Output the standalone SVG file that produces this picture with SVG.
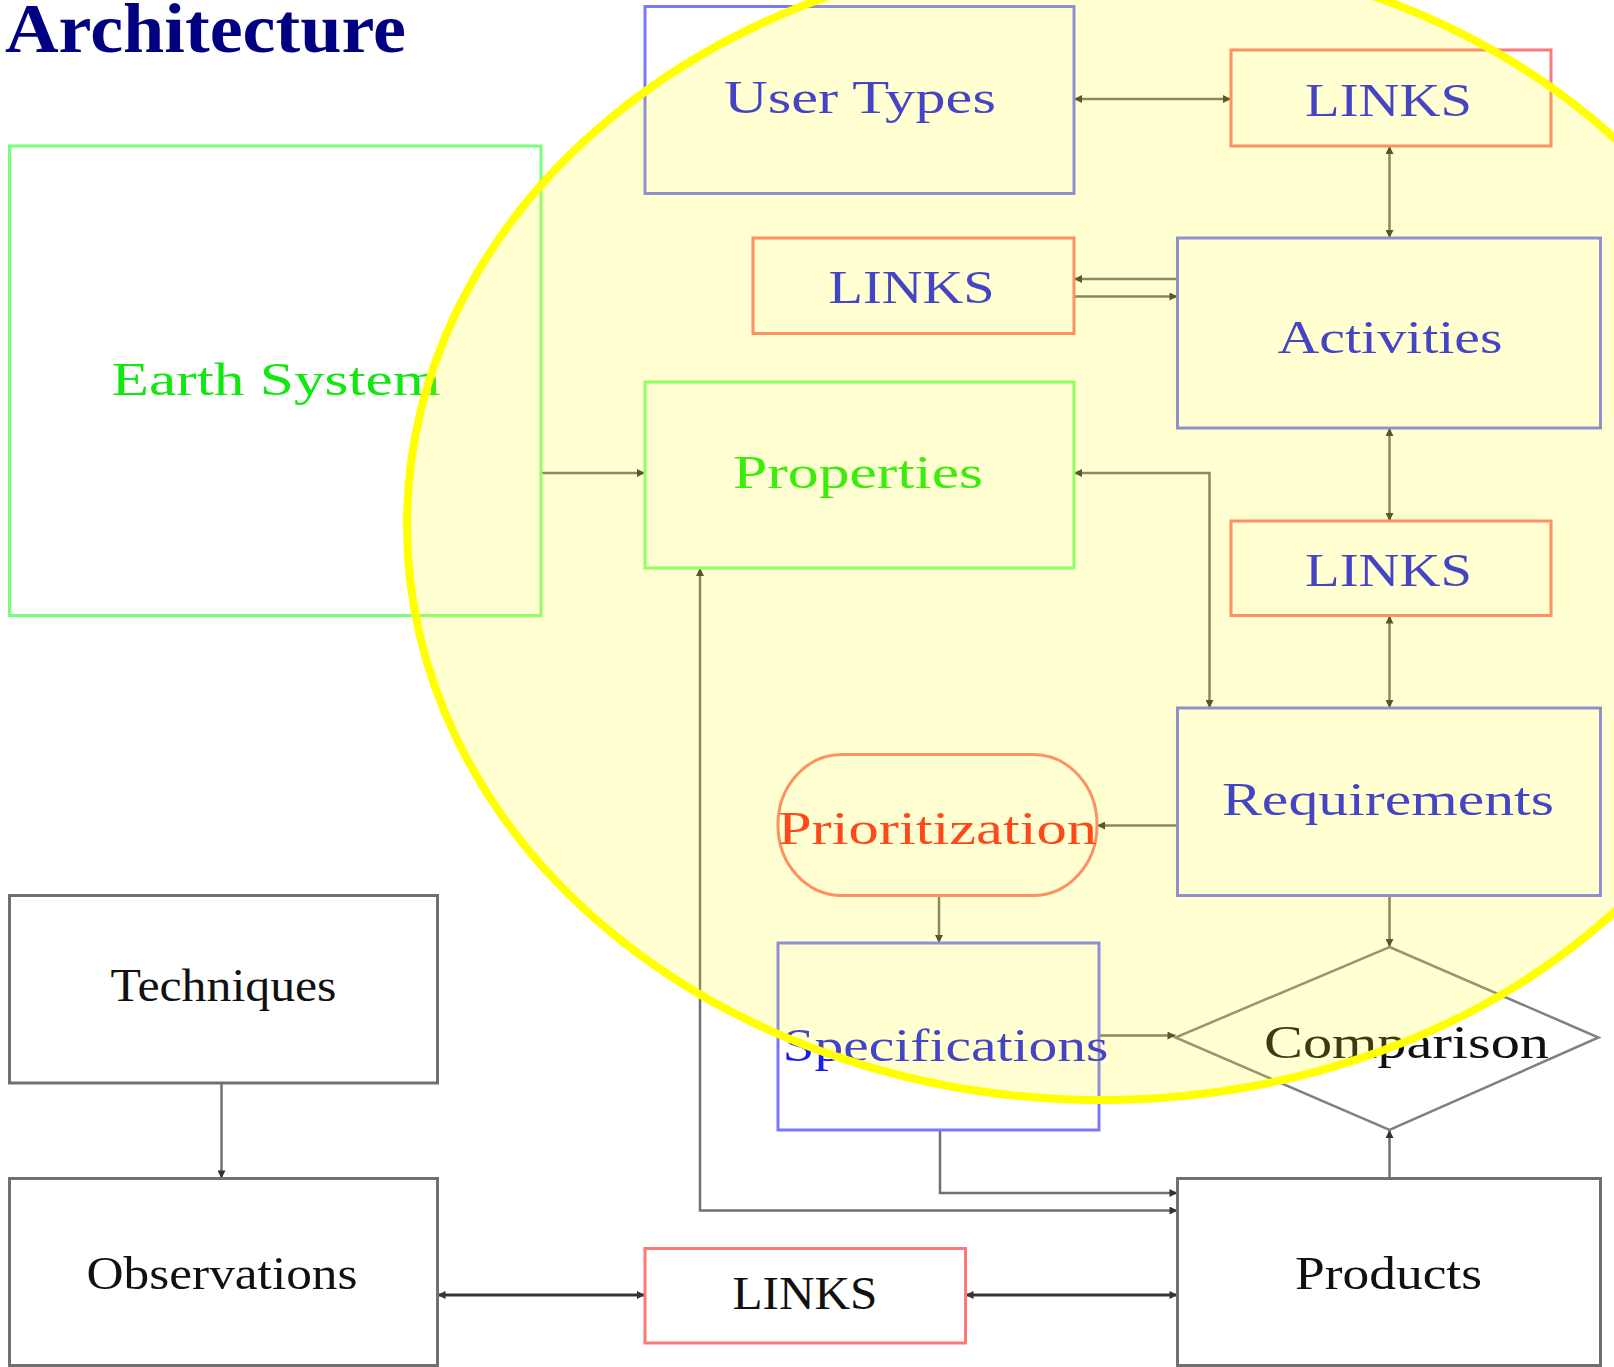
<svg xmlns="http://www.w3.org/2000/svg" width="1614" height="1367" viewBox="0 0 1614 1367">
<style>
  .box { fill: none; stroke-width: 3; }
  .blue { stroke: #7878ff; }
  .red { stroke: #ff7878; }
  .green { stroke: #78ff78; }
  .gray { stroke: #707070; }
  .lbl { font-family: "Liberation Serif", "DejaVu Serif", serif; font-size: 46px; text-anchor: middle; }
  .tblue { fill: #1c1cf0; }
  .tgreen { fill: #10e810; }
  .tred { fill: #ff2020; }
  .tblack { fill: #111111; }
  .conn { fill: none; stroke: #707070; stroke-width: 2.5; }
  .dark { stroke: #333333; stroke-width: 3; }
</style>
<defs>
  <marker id="arr" viewBox="0 0 10 10" refX="10" refY="5" markerWidth="9" markerHeight="8" markerUnits="userSpaceOnUse" orient="auto-start-reverse">
    <path d="M0,0 L10,5 L0,10 z" fill="#333333"/>
  </marker>
</defs>
<rect x="0" y="0" width="1614" height="1367" fill="#ffffff"/>

<text x="5" y="52" font-family="Liberation Serif, serif" font-weight="bold" font-size="70" fill="#000080" textLength="401" lengthAdjust="spacingAndGlyphs">Architecture</text>

<g id="connectors">
  <path class="conn" d="M1074,99 H1231" marker-start="url(#arr)" marker-end="url(#arr)"/>
  <path class="conn" d="M1389.5,146 V238" marker-start="url(#arr)" marker-end="url(#arr)"/>
  <path class="conn" d="M1177.5,279 H1074" marker-end="url(#arr)"/>
  <path class="conn" d="M1074,296.5 H1177.5" marker-end="url(#arr)"/>
  <path class="conn" d="M1389.5,428 V521" marker-start="url(#arr)" marker-end="url(#arr)"/>
  <path class="conn" d="M1389.5,615.5 V708" marker-start="url(#arr)" marker-end="url(#arr)"/>
  <path class="conn" d="M541,473 H645" marker-end="url(#arr)"/>
  <path class="conn" d="M1074,473 H1209.5 V708" marker-start="url(#arr)" marker-end="url(#arr)"/>
  <path class="conn" d="M1177.5,825.5 H1097" marker-end="url(#arr)"/>
  <path class="conn" d="M939,895.5 V943" marker-end="url(#arr)"/>
  <path class="conn" d="M1389.5,895.5 V947" marker-end="url(#arr)"/>
  <path class="conn" d="M1099,1035.5 H1175.5" marker-end="url(#arr)"/>
  <path class="conn" d="M1389.5,1178.5 V1130" marker-end="url(#arr)"/>
  <path class="conn" d="M940,1130 V1193 H1177.5" marker-end="url(#arr)"/>
  <path class="conn" d="M1177.5,1210.5 H700 V568" marker-start="url(#arr)" marker-end="url(#arr)"/>
  <path class="conn" d="M221.5,1083 V1178.5" marker-end="url(#arr)"/>
  <path class="conn dark" d="M437.5,1295 H645" marker-start="url(#arr)" marker-end="url(#arr)"/>
  <path class="conn dark" d="M965.5,1295 H1177.5" marker-start="url(#arr)" marker-end="url(#arr)"/>
</g>

<g id="earth-system">
  <rect class="box green" x="9.5" y="146" width="531.5" height="469.5"/>
  <text class="lbl tgreen" x="276" y="395" textLength="329" lengthAdjust="spacingAndGlyphs">Earth System</text>
</g>
<g id="user-types">
  <rect class="box blue" x="645" y="6.5" width="429" height="187"/>
  <text class="lbl tblue" x="860" y="113" textLength="272" lengthAdjust="spacingAndGlyphs">User Types</text>
</g>
<g id="links-top">
  <rect class="box red" x="1231" y="50" width="320" height="96"/>
  <text class="lbl tblue" x="1388.5" y="116" textLength="167" lengthAdjust="spacingAndGlyphs">LINKS</text>
</g>
<g id="links-mid-left">
  <rect class="box red" x="753" y="238" width="321" height="95.5"/>
  <text class="lbl tblue" x="911.5" y="302.5" textLength="166" lengthAdjust="spacingAndGlyphs">LINKS</text>
</g>
<g id="activities">
  <rect class="box blue" x="1177.5" y="238" width="423" height="190"/>
  <text class="lbl tblue" x="1390" y="353" textLength="225" lengthAdjust="spacingAndGlyphs">Activities</text>
</g>
<g id="properties">
  <rect class="box green" x="645" y="382" width="429" height="186"/>
  <text class="lbl tgreen" x="858" y="488" textLength="250" lengthAdjust="spacingAndGlyphs">Properties</text>
</g>
<g id="links-mid-right">
  <rect class="box red" x="1231" y="521" width="320" height="94.5"/>
  <text class="lbl tblue" x="1388.5" y="585.5" textLength="167" lengthAdjust="spacingAndGlyphs">LINKS</text>
</g>
<g id="requirements">
  <rect class="box blue" x="1177.5" y="708" width="423" height="187.5"/>
  <text class="lbl tblue" x="1388" y="815" textLength="332" lengthAdjust="spacingAndGlyphs">Requirements</text>
</g>
<g id="prioritization">
  <rect class="box red" x="778" y="754.5" width="319" height="141" rx="64" ry="70"/>
  <text class="lbl tred" x="937.5" y="844" textLength="319" lengthAdjust="spacingAndGlyphs">Prioritization</text>
</g>
<g id="specifications">
  <rect class="box blue" x="778" y="943" width="321" height="187"/>
  <text class="lbl tblue" x="945.5" y="1061" textLength="326" lengthAdjust="spacingAndGlyphs">Specifications</text>
</g>
<g id="comparison">
  <polygon points="1389.5,947 1598.5,1037.5 1389.5,1130 1175.5,1037.5" fill="none" stroke="#808080" stroke-width="2.5"/>
  <text class="lbl tblack" x="1406.5" y="1058" textLength="285" lengthAdjust="spacingAndGlyphs">Comparison</text>
</g>
<g id="techniques">
  <rect class="box gray" x="9.5" y="895.5" width="428" height="187.5"/>
  <text class="lbl tblack" x="223.5" y="1000.5" textLength="226" lengthAdjust="spacingAndGlyphs">Techniques</text>
</g>
<g id="observations">
  <rect class="box gray" x="9.5" y="1178.5" width="428" height="187"/>
  <text class="lbl tblack" x="222" y="1289" textLength="271" lengthAdjust="spacingAndGlyphs">Observations</text>
</g>
<g id="links-bottom">
  <rect class="box red" x="645" y="1248.5" width="320.5" height="94.5"/>
  <text class="lbl tblack" x="805" y="1309" textLength="145" lengthAdjust="spacingAndGlyphs">LINKS</text>
</g>
<g id="products">
  <rect class="box gray" x="1177.5" y="1178.5" width="423" height="187"/>
  <text class="lbl tblack" x="1388.5" y="1289" textLength="187" lengthAdjust="spacingAndGlyphs">Products</text>
</g>

<g id="highlight">
  <ellipse cx="1101" cy="525" rx="694" ry="575" fill="#ffff00" fill-opacity="0.18" stroke="#ffff00" stroke-width="8"/>
</g>
</svg>
